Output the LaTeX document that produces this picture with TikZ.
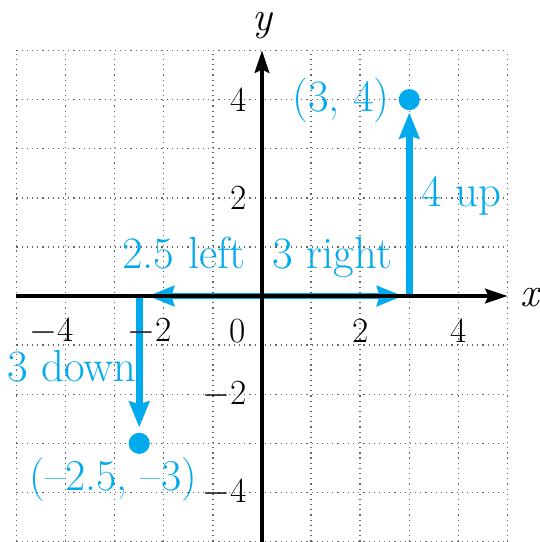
\documentclass[tikz,border=0pt]{standalone}
\usepackage{fontspec}
\setmainfont{Latin Modern Roman}
\usetikzlibrary{arrows.meta}
\definecolor{cyanblue}{RGB}{0,170,236}
\tikzset{
  gridline/.style={line width=0.8pt, black!60, dash pattern=on 0.7pt off 2.3pt},
  axisline/.style={line width=1.9pt, black, -{Stealth[length=13pt,width=8.5pt,inset=2pt]}},
  movearrow/.style={line width=4pt, cyanblue, -{Stealth[length=15pt,width=11.5pt,inset=1.5pt]}},
  ticklabel/.style={font=\fontsize{20.5}{22}\selectfont, inner sep=0pt},
  bluelabel/.style={font=\fontsize{26}{28}\selectfont, text=cyanblue, inner sep=0pt},
  axislabel/.style={font=\fontsize{24}{26}\selectfont\itshape, inner sep=0pt},
  pointdot/.style={circle, fill=cyanblue, minimum size=0.43cm, inner sep=0pt}
}
\begin{document}
\begin{tikzpicture}
\useasboundingbox (-5.336,-5.010) rectangle (5.642,6.029);
% grid
\foreach \k in {-5,...,5} {
  \draw[gridline] (\k,-5) -- (\k,5);
  \draw[gridline] (-5,\k) -- (5,\k);
}
% named points
\coordinate (O) at (0,0);
\coordinate (A) at (3,0);
\coordinate (B) at (-2.5,0);
\node[pointdot] (P) at (3,4) {};
\node[pointdot] (Q) at (-2.5,-3) {};
% blue moves
\draw[movearrow, shorten >=0.13cm] (O) -- (A);
\draw[movearrow, shorten >=0.04cm] (A) -- (P.south);
\draw[movearrow, shorten >=0.18cm] (O) -- (B);
\draw[movearrow, shorten >=0.10cm] (B) -- (Q.north);
% axes
\coordinate (xs) at (-5,0);
\coordinate (xe) at (5,0);
\coordinate (ys) at (0,-5);
\coordinate (ye) at (0,5);
\draw[axisline] (xs) -- (xe);
\draw[axisline] (ys) -- (ye);
\node[axislabel, anchor=base] (xl) at (5.46,-0.22) {x};
\node[axislabel, anchor=base] (yl) at (0.0,5.40) {y};
% tick labels
\node[ticklabel] (tx1) at (-4,-0.71) {\llap{$-$}4};
\node[ticklabel] (tx2) at (-2,-0.71) {\llap{$-$}2};
\node[ticklabel] (tx0) at (-0.49,-0.71) {0};
\node[ticklabel] (tx3) at (2,-0.71) {2};
\node[ticklabel] (tx4) at (4,-0.71) {4};
\node[ticklabel, anchor=east] (ty4) at (-0.31,4) {4};
\node[ticklabel, anchor=east] (ty2) at (-0.31,2) {2};
\node[ticklabel, anchor=east] (ty5) at (-0.31,-2) {$-$2};
\node[ticklabel, anchor=east] (ty6) at (-0.31,-4) {$-$4};
% blue labels
\node[bluelabel, anchor=base] (l1) at (-1.59,0.57) {2.5 left};
\node[bluelabel, anchor=base] (l2) at (1.43,0.57) {3 right};
\node[bluelabel, anchor=base west] (l3) at (3.24,1.83) {4 up};
\node[bluelabel, anchor=base] (l4) at (-3.87,-1.74) {3 down};
\node[bluelabel] (l5) at (1.61,3.99) {(3, 4)};
\node[bluelabel, font=\fontsize{25.5}{28}\selectfont] (l6) at (-3.03,-3.73) {(–2.5, –3)};
\end{tikzpicture}
\end{document}
